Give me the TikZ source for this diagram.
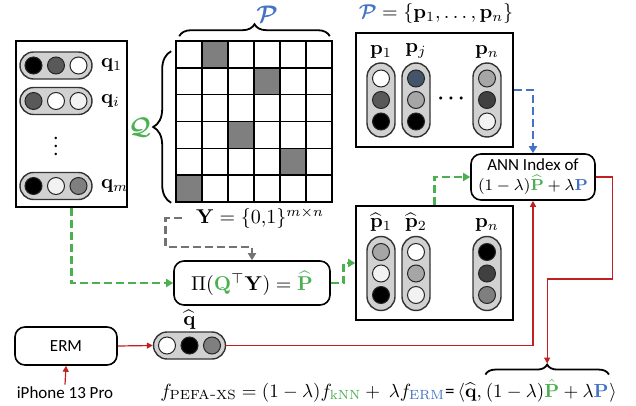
\documentclass[tikz,border=0pt]{standalone}
\usepackage{amsmath}
\usepackage[no-math]{fontspec}
\setmainfont{Carlito}
\usepackage{xcolor}
\definecolor{anngreen}{RGB}{76,175,80}
\definecolor{annblue}{RGB}{68,114,196}
\definecolor{annred}{RGB}{192,32,32}
\definecolor{c1}{HTML}{F2F2F2}
\definecolor{c2}{HTML}{A6A6A6}
\definecolor{c3}{HTML}{7F7F7F}
\definecolor{c4}{HTML}{595959}
\definecolor{c5}{HTML}{404040}
\definecolor{c7}{HTML}{44546A}
\usepackage{tikz}
\usetikzlibrary{shapes.misc, arrows.meta, calc, positioning, decorations.pathreplacing}

\newcommand{\txtfont}{\fontsize{8.5}{10}\selectfont}
\newcommand{\hpill}[3]{%
  \node[hpillst] (#1) at (#2) {};
  \foreach \col [count=\k] in {#3}
    \node[dotst, fill=\col] at ($(#1)+({(\k-2)*22.5},0)$) {};
}
\newcommand{\vpill}[3]{%
  \node[vpillst] (#1) at (#2) {};
  \foreach \col [count=\k] in {#3}
    \node[dotst, fill=\col] at ($(#1)+(0,{(\k-2)*21.5})$) {};
}

\begin{document}
\begin{tikzpicture}[x=0.5pt, y=-0.5pt,
	boxst/.style={rectangle, draw, line width=0.8pt, inner sep=0pt},
	rboxst/.style={rectangle, draw, line width=0.8pt, rounded corners=5pt, align=center,
	               font=\txtfont, inner sep=2pt},
	hpillst/.style={rounded rectangle, draw=black!80, line width=0.7pt, fill=black!18,
	                minimum width=36pt, minimum height=13.5pt, inner sep=0pt},
	vpillst/.style={hpillst, rotate=90, minimum width=37pt, minimum height=14pt},
	dotst/.style={circle, draw=black!85, line width=0.5pt, minimum size=8.5pt, inner sep=0pt},
	labst/.style={inner sep=1pt},
	toplab/.style={inner sep=1pt, anchor=south},
	frm/.style={inner sep=0pt, anchor=base west, scale=0.95, transform shape},
	bracest/.style={decorate, line width=0.9pt},
	gdash/.style={draw=anngreen, line width=1.4pt, dash pattern=on 4pt off 2pt,
	              -{Triangle[length=3.5pt, width=4pt, fill=anngreen]}},
	bdash/.style={gdash, draw=annblue, -{Triangle[length=3.5pt, width=4pt, fill=annblue]}},
	graydash/.style={gdash, draw=black!55, -{Triangle[length=3.5pt, width=4pt, fill=black!55]}},
	rarr/.style={draw=annred, line width=0.6pt, -{Triangle[length=3pt, width=3pt, fill=annred]}}
	]
\useasboundingbox (0,0) rectangle (636,406);

% queries
\node[boxst, minimum width=55.5pt, minimum height=83pt] (qbox) at (71.5,124) {};
\hpill{q1}{56,65.5}{black,c4,white}
\hpill{qi}{56,101}{c4,white,c1}
\hpill{qm}{56,186}{black,c1,c3}
\node (qdots) at (56,140) {$\boldsymbol{\vdots}$};
\node[labst, right=3pt of q1] (q1lab) {$\mathbf{q}_1$};
\node[labst, right=3pt of qi] (qilab) {$\mathbf{q}_i$};
\node[labst, right=3pt of qm] (qmlab) {$\mathbf{q}_m$};

% click matrix
\foreach \rw/\cl in {0/1, 1/3, 3/2, 4/4, 5/0}
	\fill[c3] (176+\cl*26, 41+\rw*26.83) rectangle ++(26,26.83);
\foreach \k in {1,...,5} {
	\draw[line width=0.8pt] (176+\k*26,41) -- (176+\k*26,202);
	\draw[line width=0.8pt] (176,41+\k*26.83) -- (332,41+\k*26.83);
}
\node[boxst, minimum width=78pt, minimum height=80.5pt] (ymat) at (254,121.5) {};
\draw[bracest, decoration={brace, amplitude=6pt}]
	([xshift=2pt, yshift=2pt]ymat.north west) -- ([xshift=-1.5pt, yshift=2pt]ymat.north east);
\draw[bracest, decoration={brace, amplitude=9pt}]
	([xshift=-2pt]ymat.south west) -- ([xshift=-2pt, yshift=-5.5pt]ymat.north west);
\node[font=\large, inner sep=0pt] (plab) at (267,14) {$\textcolor{annblue}{\boldsymbol{\mathcal{P}}}$};
\node[font=\large, inner sep=0pt] (qlab) at (140,127) {$\textcolor{anngreen}{\boldsymbol{\mathcal{Q}}}$};
\node[labst] (ylab) at (260,218) {$\mathbf{Y} = \{0{,}1\}^{m\times n}$};

\node[rboxst, font=\normalsize, minimum width=78pt, minimum height=22pt] (pi) at (252,283)
	{$\Pi(\textcolor{anngreen}{\mathbf{Q}}^{\top}\mathbf{Y}) = \textcolor{anngreen}{\widehat{\mathbf{P}}}$};

% products
\node (pset) at (436,14) {$\textcolor{annblue}{\boldsymbol{\mathcal{P}}} = \{\mathbf{p}_1, \ldots, \mathbf{p}_n\}$};
\node[boxst, minimum width=78.5pt, minimum height=57pt] (pbox) at (434.5,90) {};
\vpill{p1}{381,100}{white,c4,black}
\vpill{pj}{416,100}{c7,c2,black}
\vpill{pn}{487,100}{c2,c5,c1}
\node[toplab] at ([yshift=1pt]p1.east) {$\mathbf{p}_1$};
\node[toplab] at ([yshift=1pt]pj.east) {$\mathbf{p}_j$};
\node[toplab] at ([yshift=1pt]pn.east) {$\mathbf{p}_n$};
\node (pdots) at (453,99) {$\boldsymbol{\cdots}$};

\node[boxst, minimum width=78.5pt, minimum height=57pt] (phbox) at (434.5,263) {};
\vpill{ph1}{381,273.5}{c2,c1,black}
\vpill{ph2}{416,273.5}{white,c2,c1}
\vpill{phn}{487,273.5}{black,c5,c3}
\node[toplab] at ([yshift=1pt]ph1.east) {$\widehat{\mathbf{p}}_1$};
\node[toplab] at ([yshift=1pt]ph2.east) {$\widehat{\mathbf{p}}_2$};
\node[toplab] at ([yshift=1pt]phn.east) {$\mathbf{p}_n$};

\node[rboxst, minimum width=62pt, minimum height=23pt] (ann) at (533,177)
	{ANN Index of\\ $(1-\lambda)\textcolor{anngreen}{\widehat{\mathbf{P}}}+\lambda\textcolor{annblue}{\mathbf{P}}$};

% inference
\node[rboxst, minimum width=51pt, minimum height=19pt] (erm) at (66,346) {ERM};
\node[font=\txtfont, labst] (iphone) at (65,393) {iPhone 13 Pro};
\hpill{qh}{189.5,345.5}{white,black,c3}
\node[labst, above=0pt of qh] (qhlab) {$\widehat{\mathbf{q}}$};

\node[frm] (f1) at (160,397)
	{$f_{\mathrm{PEFA\text{--}XS}} = (1-\lambda)f_{\textcolor{anngreen}{\mathrm{kNN}}} +\ \lambda f_{\textcolor{annblue}{\mathrm{ERM}}}\text{=}\,\langle\widehat{\mathbf{q}},\,$};
\node[frm] (f2) at (f1.base east)
	{$(1-\lambda)\textcolor{anngreen}{\hat{\mathbf{P}}}+\lambda\textcolor{annblue}{\mathbf{P}}$};
\node[frm] (f3) at (f2.base east) {$\rangle$};
\draw[bracest, decoration={brace, amplitude=5pt}]
	([yshift=2pt]f2.north west) -- ([yshift=2pt]f2.north east);
\coordinate (btip) at ([yshift=7.5pt]f2.north);

\draw[gdash] (qbox.south) |- (pi.west);
\draw[gdash] (pi.east) -- ++(13,0) |- (phbox.west);
\draw[gdash] ($(phbox.north west)+(79,0)$) |- (ann.west);
\draw[bdash] (pbox.east) -| (ann.north);
\draw[graydash] ([xshift=-6pt]ylab.west) -- ++(-16,0) -- ++(0,29) -| (pi.north);
\draw[rarr] (ann.east) -- ++(17,0) -- ++(0,102) -| (btip);
\draw[rarr] (qh.east) -| (ann.south);
\draw[rarr] (erm.east) -- (qh.west);
\draw[rarr] (iphone.north) -- (erm.south);
\end{tikzpicture}
\end{document}
